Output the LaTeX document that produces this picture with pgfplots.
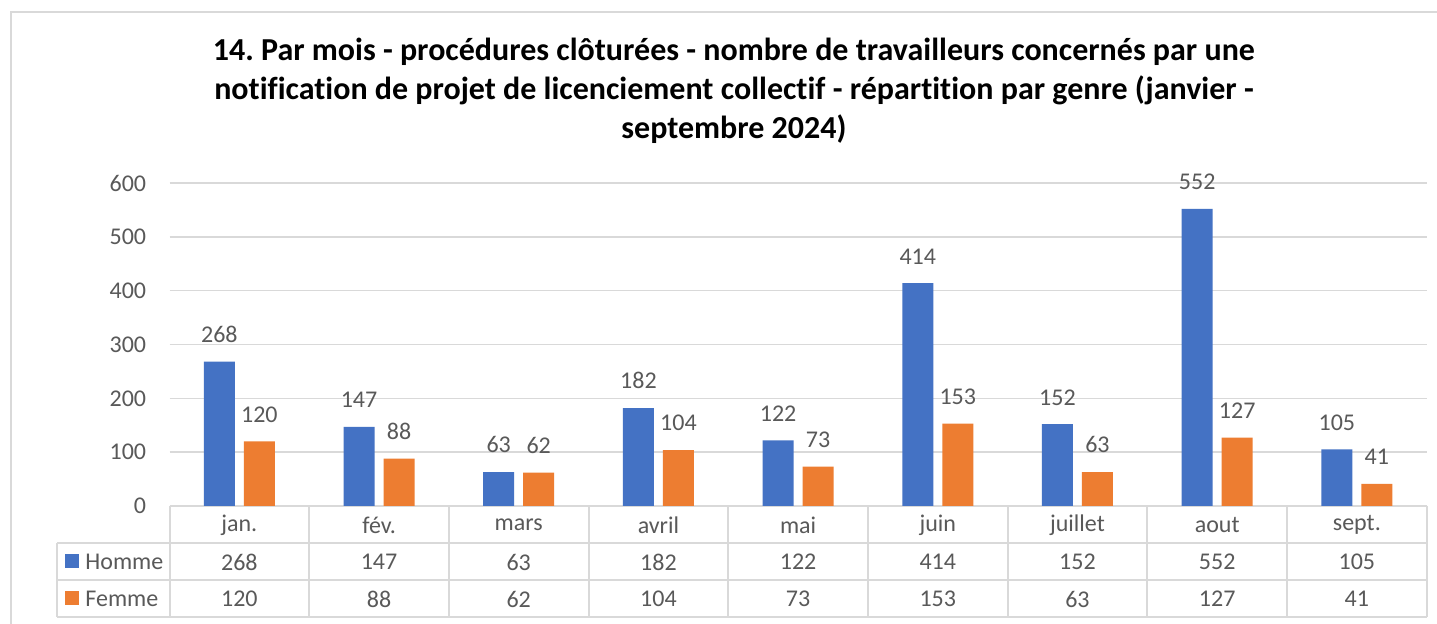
\documentclass[border=0pt]{standalone}
\usepackage{fontspec}
\setmainfont{Carlito}[Ligatures=NoCommon]
\usepackage{pgfplots}
\pgfplotsset{compat=1.18}
\definecolor{cblue}{HTML}{4472C4}
\definecolor{corange}{HTML}{ED7D31}
\definecolor{cgrid}{HTML}{D9D9D9}
\definecolor{ctext}{HTML}{595959}
\frenchspacing
\begin{document}
\begin{tikzpicture}
\begin{scope}[x=0.5pt,y=-0.5pt]
\useasboundingbox (0,0) rectangle (1437,624);
\fill[white] (0,0) rectangle (1437,624);
\draw[cgrid, line width=1pt] (11,640) -- (11,12) -- (1437,12);
\node[font=\bfseries\fontsize{16}{19.5}\selectfont, align=center, text=black] at (734,91)
 {14. Par mois - procédures clôturées - nombre de travailleurs concernés par une\\
  notification de projet de licenciement collectif - répartition par genre (janvier -\\
  septembre 2024)};
\end{scope}
\begin{axis}[
  at={(84.75pt,-253pt)}, anchor=south west,
  scale only axis, width=628.6pt, height=161.5pt,
  xmin=-0.5, xmax=8.5, ymin=0, ymax=600,
  xtick=\empty, ytick={0,100,...,600},
  ymajorgrids, grid style={cgrid, line width=0.75pt},
  axis line style={draw=none}, major tick length=0pt,
  /pgf/number format/assume math mode=true,
  yticklabel style={font=\fontsize{12}{14}\selectfont, text=ctext, anchor=east, inner sep=0pt, xshift=-11.5pt},
  ybar=4.5pt, bar width=15.5pt,
  nodes near coords,
  nodes near coords style={font=\fontsize{12}{14}\selectfont, text=ctext, anchor=south, inner sep=0pt, yshift=9.3pt},
  clip=false,
]
\addplot[fill=cblue, draw=none] coordinates {(0,268) (1,147) (2,63) (3,182) (4,122) (5,414) (6,152) (7,552) (8,105)};
\addplot[fill=corange, draw=none] coordinates {(0,120) (1,88) (2,62) (3,104) (4,73) (5,153) (6,63) (7,127) (8,41)};
\end{axis}
\begin{scope}[x=0.5pt,y=-0.5pt]
\def\cw{139.69}
\draw[cgrid, line width=1pt] (57,543) -- (1426.7,543);
\draw[cgrid, line width=1pt] (57,580) -- (1426.7,580);
\draw[cgrid, line width=1pt] (57,617.5) -- (1426.7,617.5);
\draw[cgrid, line width=1pt] (57,543) -- (57,617.5);
\foreach \k in {0,...,9} {
  \draw[cgrid, line width=1pt] (169.5+\k*\cw,506) -- (169.5+\k*\cw,617.5);
}
\foreach \n [count=\i from 0] in {jan.,fév.,mars,avril,mai,juin,juillet,aout,sept.} {
  \node[font=\fontsize{12}{14}\selectfont, text=ctext] at (169.5+\cw*\i+0.5*\cw,525) {\n};
}
\foreach \n [count=\i from 0] in {268,147,63,182,122,414,152,552,105} {
  \node[font=\fontsize{12}{14}\selectfont, text=ctext] at (169.5+\cw*\i+0.5*\cw,562) {\n};
}
\foreach \n [count=\i from 0] in {120,88,62,104,73,153,63,127,41} {
  \node[font=\fontsize{12}{14}\selectfont, text=ctext] at (169.5+\cw*\i+0.5*\cw,599) {\n};
}
\fill[cblue] (65,554.5) rectangle (79,568.5);
\fill[corange] (65,591.5) rectangle (79,605.5);
\node[font=\fontsize{12}{14}\selectfont, text=ctext, anchor=west, inner sep=0pt] at (85,562) {Homme};
\node[font=\fontsize{12}{14}\selectfont, text=ctext, anchor=west, inner sep=0pt] at (85,599) {Femme};
\end{scope}
\end{tikzpicture}
\end{document}
